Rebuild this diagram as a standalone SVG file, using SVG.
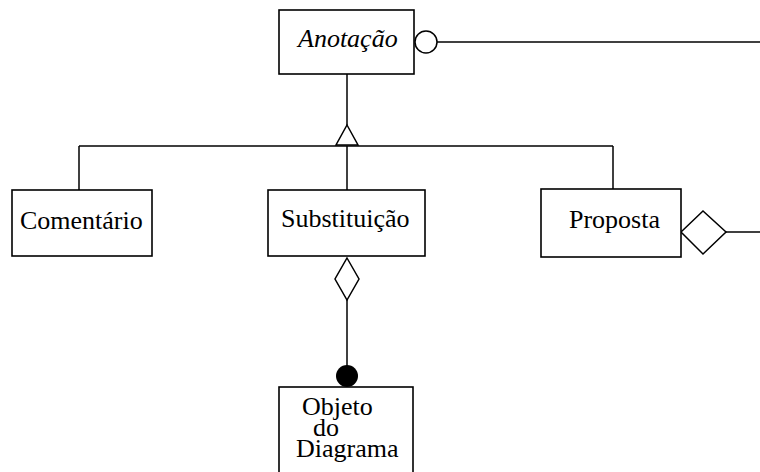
<svg xmlns="http://www.w3.org/2000/svg" width="760" height="472" viewBox="0 0 760 472">
  <style>
    .box { fill: #fff; stroke: #000; stroke-width: 1.6; }
    .line { fill: none; stroke: #000; stroke-width: 1.5; }
    .open { fill: #fff; stroke: #000; stroke-width: 1.5; }
    .label { font-family: "Liberation Serif", "Times New Roman", serif; font-size: 26px; fill: #000; }
    .abstract { font-style: italic; }
  </style>
  <rect width="760" height="472" fill="#fff"/>

  <!-- connectors -->
  <g id="connectors">
    <!-- interface lollipop from Anotação -->
    <line class="line" x1="437" y1="42" x2="760" y2="42"/>
    <circle class="open" cx="426" cy="42" r="11"/>
    <!-- generalization tree -->
    <line class="line" x1="347" y1="74" x2="347" y2="125"/>
    <line class="line" x1="79" y1="146" x2="613" y2="146"/>
    <line class="line" x1="79" y1="146" x2="79" y2="190"/>
    <line class="line" x1="347" y1="146" x2="347" y2="190"/>
    <line class="line" x1="613" y1="146" x2="613" y2="189"/>
    <polygon class="open" points="347,125 358,145 336,145"/>
    <!-- aggregation Substituição to Objeto do Diagrama -->
    <line class="line" x1="347" y1="300" x2="347" y2="366"/>
    <polygon class="open" points="347,258 359,279 347,300 335,279"/>
    <circle cx="347" cy="376" r="11" fill="#000"/>
    <!-- aggregation from Proposta -->
    <line class="line" x1="726" y1="232" x2="760" y2="232"/>
    <polygon class="open" points="681,232 703,211 726,232 703,254"/>
  </g>

  <g id="anotacao">
    <rect class="box" x="279" y="10" width="135" height="64"/>
    <text class="label abstract" x="298" y="47">Anotação</text>
  </g>

  <g id="comentario">
    <rect class="box" x="12" y="190" width="140" height="66"/>
    <text class="label" x="20" y="229">Comentário</text>
  </g>

  <g id="substituicao">
    <rect class="box" x="268" y="190" width="157" height="66"/>
    <text class="label" x="281" y="227">Substituição</text>
  </g>

  <g id="proposta">
    <rect class="box" x="541" y="189" width="140" height="68"/>
    <text class="label" x="569" y="228">Proposta</text>
  </g>

  <g id="objeto-do-diagrama">
    <rect class="box" x="279" y="387" width="134" height="100"/>
    <text class="label" x="302" y="415">Objeto</text>
    <text class="label" x="313" y="436">do</text>
    <text class="label" x="296" y="457">Diagrama</text>
  </g>
</svg>
